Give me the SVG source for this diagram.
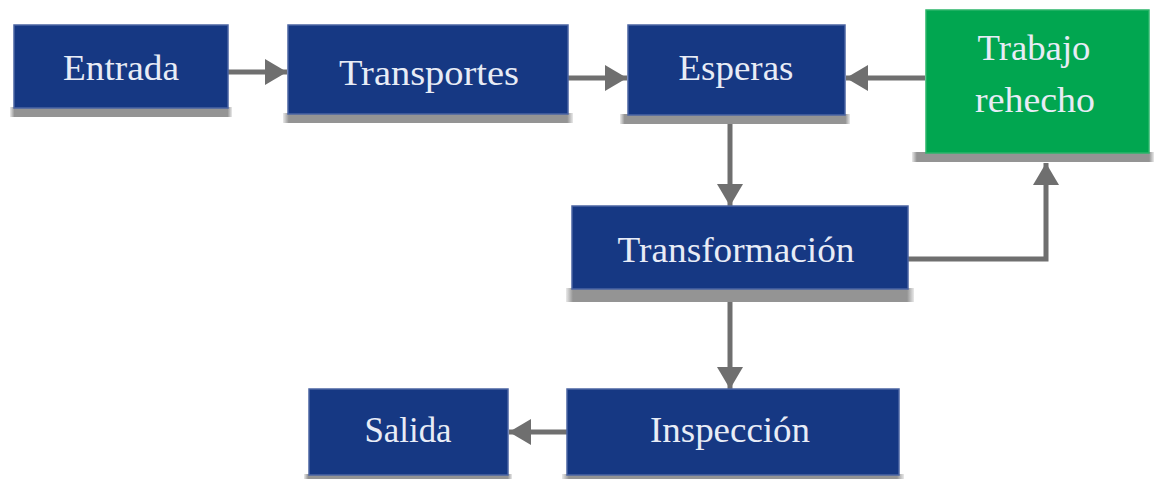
<svg xmlns="http://www.w3.org/2000/svg" width="1156" height="479" viewBox="0 0 1156 479">
<defs>
<style>
.box{fill:#163883;stroke:#4b64a3;stroke-width:1.5}
.green{fill:#01a650;stroke:#2bb56a;stroke-width:1.5}
.sh{fill:#949494}
.t{font-family:"Liberation Serif","Times New Roman",serif;font-size:36px;fill:#e8ecf6;text-anchor:middle}
.c{fill:none;stroke:#6f6f6f;stroke-width:5}
</style>
<linearGradient id="shg" x1="0" x2="1" y1="0" y2="0">
<stop offset="0" stop-color="#949494" stop-opacity="0.2"/>
<stop offset="0.02" stop-color="#949494"/>
<stop offset="0.98" stop-color="#949494"/>
<stop offset="1" stop-color="#949494" stop-opacity="0.2"/>
</linearGradient>
<marker id="ah" viewBox="0 0 22 26" refX="22" refY="13" markerWidth="22" markerHeight="26" markerUnits="userSpaceOnUse" orient="auto">
<path d="M0,0 L22,13 L0,26 Z" fill="#6f6f6f"/>
</marker>
</defs>
<rect width="1156" height="479" fill="#ffffff"/>
<g id="connectors">
<line class="c" x1="228" y1="72" x2="287" y2="72" marker-end="url(#ah)"/>
<line class="c" x1="568" y1="78" x2="627" y2="78" marker-end="url(#ah)"/>
<line class="c" x1="925" y1="78" x2="846" y2="78" marker-end="url(#ah)"/>
<line class="c" x1="730" y1="114" x2="730" y2="206" marker-end="url(#ah)"/>
<polyline class="c" points="908,259 1046,259 1046,163" marker-end="url(#ah)"/>
<line class="c" x1="730" y1="289" x2="730" y2="389" marker-end="url(#ah)"/>
<line class="c" x1="567" y1="432" x2="509" y2="432" marker-end="url(#ah)"/>
</g>
<g id="entrada">
<rect fill="url(#shg)" x="10" y="107" width="222" height="10"/>
<rect class="box" x="14" y="25" width="214" height="83"/>
<text class="t" x="121" y="80" textLength="116" lengthAdjust="spacingAndGlyphs">Entrada</text>
</g>
<g id="transportes">
<rect fill="url(#shg)" x="283" y="113" width="290" height="10"/>
<rect class="box" x="288" y="25" width="280" height="89"/>
<text class="t" x="429" y="85" textLength="180" lengthAdjust="spacingAndGlyphs">Transportes</text>
</g>
<g id="esperas">
<rect fill="url(#shg)" x="620" y="114" width="230" height="10"/>
<rect class="box" x="628" y="25" width="217" height="90"/>
<text class="t" x="736" y="80" textLength="115" lengthAdjust="spacingAndGlyphs">Esperas</text>
</g>
<g id="trabajo-rehecho">
<rect fill="url(#shg)" x="912" y="152" width="242" height="10"/>
<rect class="green" x="926" y="10" width="223" height="143"/>
<text class="t" x="1034" y="60" textLength="113" lengthAdjust="spacingAndGlyphs">Trabajo</text>
<text class="t" x="1035" y="112" textLength="120" lengthAdjust="spacingAndGlyphs">rehecho</text>
</g>
<g id="transformacion">
<rect fill="url(#shg)" x="566" y="288" width="348" height="14"/>
<rect class="box" x="572" y="206" width="336" height="83"/>
<text class="t" x="736" y="262" textLength="237" lengthAdjust="spacingAndGlyphs">Transformación</text>
</g>
<g id="salida">
<rect fill="url(#shg)" x="304" y="474" width="208" height="6"/>
<rect class="box" x="309" y="389" width="199" height="86"/>
<text class="t" x="408" y="442" textLength="87" lengthAdjust="spacingAndGlyphs">Salida</text>
</g>
<g id="inspeccion">
<rect fill="url(#shg)" x="562" y="474" width="342" height="6"/>
<rect class="box" x="567" y="389" width="332" height="86"/>
<text class="t" x="730" y="442" textLength="160" lengthAdjust="spacingAndGlyphs">Inspección</text>
</g>
</svg>
